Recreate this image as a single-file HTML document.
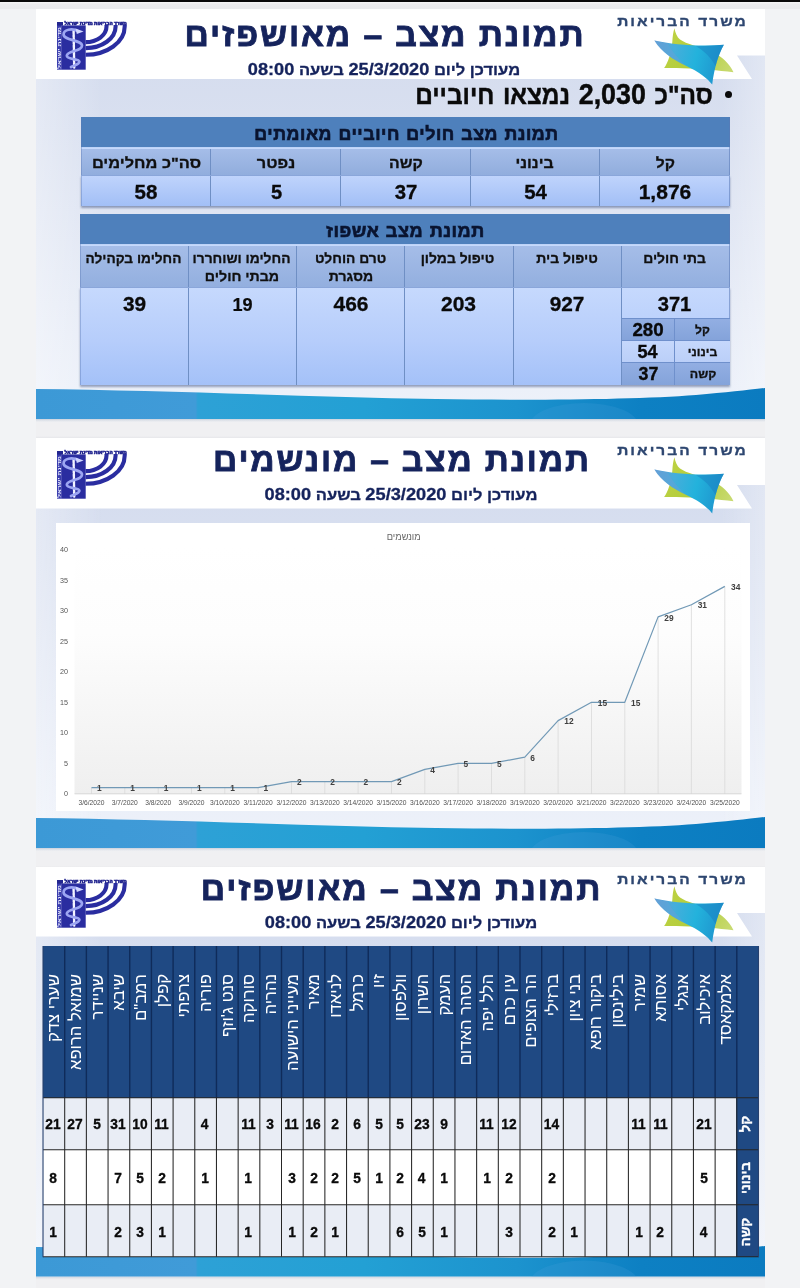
<!DOCTYPE html>
<html lang="he">
<head>
<meta charset="utf-8">
<title>תמונת מצב</title>
<style>
html,body{margin:0;padding:0;background:#f2f3f5;}
body{width:800px;height:1288px;overflow:hidden;position:relative;font-family:"Liberation Sans","DejaVu Sans",sans-serif;}
#root{position:absolute;left:0;top:0;width:800px;height:1288px;overflow:hidden;background:#f2f3f5;}
#root>div,#root>svg{position:absolute;display:block;}
.t{direction:rtl;unicode-bidi:plaintext;margin:0;padding:0;text-align:center;white-space:nowrap;}
.top{left:0;top:0;width:800px;height:1.6px;background:#0a0a0a;}
</style>
</head>
<body>
<div id="root">
<div style="left:0;top:1.5px;width:800px;height:7.3px;background:linear-gradient(180deg,#f7f7f7 0,#ececee 35%,#eaebed 100%)"></div>
<div style="left:36px;top:418px;width:729px;height:20px;background:linear-gradient(180deg,#eef0f3 0,#f0f0f2 30%,#f0f0f2 90%,#e6e7ea 100%)"></div>
<div style="left:36px;top:847px;width:729px;height:20.5px;background:linear-gradient(180deg,#eef0f3 0,#f0f0f2 30%,#f0f0f2 90%,#e6e7ea 100%)"></div>
<div style="left:36px;top:1276px;width:729px;height:12px;background:#f0f0f2"></div>
<div class="top"></div>
<div style="left:36px;top:9px;width:729px;height:409.5px;background:linear-gradient(90deg,rgba(255,255,255,.35) 0,rgba(255,255,255,0) 9%,rgba(255,255,255,0) 94%,rgba(255,255,255,.3) 100%),linear-gradient(180deg,#d2daed 0%,#d9e0f0 30%,#e6ebf6 72%,#eef2fa 100%);"></div>
<svg style="left:36px;top:9px" width="729" height="71" viewBox="0 0 729 71"><polygon points="0,0 729,0 729,46.6 701,46.6 716,70 0,70" fill="#ffffff"/></svg>
<svg style="left:55.4px;top:19px" width="76" height="54" viewBox="-2 -3 76 54" font-family='"Liberation Sans","DejaVu Sans",sans-serif' font-weight="bold">
<g fill="none" stroke="#2a2da0" stroke-width="4.1">
<path d="M67.7 3 L67.7 4.5 A39.1 28.3 0 0 1 28.6 32.8"/>
<path d="M58.6 3 L58.6 4.5 A30 21.6 0 0 1 28.6 26.1"/>
<path d="M49.5 3 L49.5 4.5 A20.9 15.6 0 0 1 28.6 20.1"/>
</g>
<rect x="0" y="0" width="4.6" height="47.7" fill="#3a3eae"/>
<rect x="4.4" y="3.4" width="24.3" height="44.3" fill="#2a2da0"/>
<rect x="0" y="0" width="6" height="3.6" fill="#23268f"/>
<text x="69.6" y="3.2" font-size="4.6" fill="#23268f" stroke="#23268f" stroke-width="0.6" direction="rtl" text-anchor="start" textLength="62" lengthAdjust="spacingAndGlyphs">משרד הבריאות מדינת ישראל</text>
<text transform="translate(3.6 47) rotate(-90)" font-size="4.2" fill="#e8eaff" direction="rtl" text-anchor="end" textLength="42" lengthAdjust="spacingAndGlyphs">מדינת ישראל</text>
<path d="M16.6 9 L17.2 45.5" stroke="#f4f5ff" stroke-width="2.4" fill="none" stroke-linecap="round" stroke-dasharray="2.6 0.9"/>
<path d="M21.6 9.4 C15 5.6 6.4 7.6 6.6 12.6 C6.8 18.6 25 17.6 25 23.8 C25 29.4 9.8 28.6 9.8 33.8 C9.8 38 22.4 36.2 22.4 39.8 C22.4 42.4 17 43.4 14 45" stroke="#9da6f2" stroke-width="2.7" fill="none" stroke-linecap="round"/>
<path d="M18.6 6.6 L26.6 9.6 L19.8 12 Z" fill="#cfd5ff"/>
</svg>
<div class="t" style="left:605.80px;top:14.00px;width:153px;color:#2d4670;height:16px;line-height:16px;font-size:13.7px;font-weight:bold;letter-spacing:1.8px;-webkit-text-stroke:0.3px #2d4670;transform:scaleX(1.1327);">משרד הבריאות</div>
<svg style="left:645px;top:20px" width="100" height="72" viewBox="645 20 100 72">
<defs>
<linearGradient id="g1a" gradientUnits="userSpaceOnUse" x1="654" y1="42" x2="724" y2="60"><stop offset="0" stop-color="#5f9fd6"/><stop offset="0.3" stop-color="#45aedb"/><stop offset="0.62" stop-color="#23b2dc"/><stop offset="1" stop-color="#1e93cd"/></linearGradient>
<linearGradient id="g1b" gradientUnits="userSpaceOnUse" x1="664" y1="30" x2="734" y2="72"><stop offset="0" stop-color="#bfd243"/><stop offset="0.5" stop-color="#b3cd3c"/><stop offset="1" stop-color="#cadb75"/></linearGradient>
</defs>
<path d="M674.4 28.3 C675.5 33.5 677 37 680 39.5 C686 44 700 47 712 52 C722 56.5 729.5 63.5 733.5 72.3 C718 70.5 700 69 690 68.6 C680 68.3 671 68.3 664.1 68.1 C668 63 671.5 52 672.3 42 C672.6 37 673.2 32 674.4 28.3 Z" fill="url(#g1b)"/>
<path d="M654.4 40.4 C672 44.6 700 46.6 723.9 44.8 C718.5 54.5 714.2 68 712.2 84.6 C708 78.5 699 71.8 685.4 65.4 C673.5 59.8 661.5 52 654.4 40.4 Z" fill="url(#g1a)"/>
<path d="M696 46.2 C705.5 46.3 715 45.6 723.9 44.8 C720.3 51 717.6 58 715.6 66 C711 57.5 704 50.5 696 46.2 Z" fill="#1a7fc2" opacity="0.5"/>
<path d="M654.4 40.4 C661.5 52 673.5 59.8 685.4 65.4 C679 59 672 52 668 43.4 C663 42.6 658.5 41.5 654.4 40.4 Z" fill="#6aa0d8" opacity="0.45"/>
</svg>
<div class="t" style="left:175.04px;top:15.70px;width:420px;color:#15235c;height:39px;line-height:39px;font-size:32.4px;font-weight:bold;letter-spacing:1.8px;-webkit-text-stroke:0.8px #15235c;transform:scaleX(1.04);">תמונת מצב – מאושפזים</div>
<div class="t" style="left:238.24px;top:60.60px;width:292px;color:#15235c;height:18px;line-height:18px;font-size:15.4px;font-weight:bold;-webkit-text-stroke:0.3px #15235c;transform:scaleX(1.0743);">מעודכן ליום <span style="font-size:1.1em">25/3/2020</span> בשעה <span style="font-size:1.1em">08:00</span></div>
<div class="t" style="left:387.08px;top:79.45px;width:354px;color:#0a0a0a;height:31px;line-height:31px;font-size:26px;font-weight:bold;word-spacing:2px;-webkit-text-stroke:0.45px #0a0a0a;transform:scaleX(0.9381);">סה"כ <span style="font-size:1.1em">2,030</span> נמצאו חיוביים</div>
<div style="left:724.6px;top:90.9px;width:7.2px;height:7.2px;background:#0a0a0a;border-radius:50%"></div>
<div style="left:81px;top:117px;width:648.5px;height:30px;background:#4e80bc"></div>
<div style="left:81px;top:147px;width:648.5px;height:2.2px;background:linear-gradient(180deg,#b9d0f6,#c9dcfd)"></div>
<div class="t" style="left:236.72px;top:124.20px;width:339px;color:#0a1430;height:21px;line-height:21px;font-size:17.7px;font-weight:bold;letter-spacing:0.5px;word-spacing:1px;-webkit-text-stroke:0.65px #0a1430;transform:scaleX(1.0081);">תמונת מצב חולים חיוביים מאומתים</div>
<div style="left:81px;top:149.2px;width:648.5px;height:25.8px;background:linear-gradient(180deg,#a5bde8,#91addd)"></div>
<div style="left:81px;top:175px;width:648.5px;height:30.8px;background:linear-gradient(180deg,#c0d4fc,#a2bff6);box-shadow:0 1.5px 2px rgba(40,60,110,.45)"></div>
<div style="left:728.6px;top:117px;width:0.9px;height:88.8px;background:rgba(90,120,180,.55)"></div>
<div style="left:81px;top:117px;width:0.8px;height:88.8px;background:rgba(90,120,180,.4)"></div>
<div class="t" style="left:78.53px;top:155.30px;width:135px;color:#101010;height:17px;line-height:17px;font-size:14.4px;font-weight:bold;-webkit-text-stroke:0.3px #101010;transform:scaleX(1.1368);">סה"כ מחלימים</div>
<div class="t" style="left:115.49px;top:178.53px;width:62px;color:#0a0a0a;height:25px;line-height:25px;font-size:20.8px;font-weight:bold;-webkit-text-stroke:0.3px #0a0a0a;transform:scaleX(0.9895);">58</div>
<div class="t" style="left:240.37px;top:155.30px;width:72px;color:#101010;height:17px;line-height:17px;font-size:14.4px;font-weight:bold;-webkit-text-stroke:0.3px #101010;transform:scaleX(1.1394);">נפטר</div>
<div class="t" style="left:251.09px;top:178.53px;width:51px;color:#0a0a0a;height:25px;line-height:25px;font-size:20.8px;font-weight:bold;-webkit-text-stroke:0.3px #0a0a0a;transform:scaleX(0.9677);">5</div>
<div style="left:210.2px;top:148.5px;width:1px;height:57.3px;background:#6f8fc4"></div>
<div class="t" style="left:370.50px;top:155.30px;width:70px;color:#101010;height:17px;line-height:17px;font-size:14.4px;font-weight:bold;-webkit-text-stroke:0.3px #101010;transform:scaleX(1.1);">קשה</div>
<div class="t" style="left:374.82px;top:178.53px;width:62px;color:#0a0a0a;height:25px;line-height:25px;font-size:20.8px;font-weight:bold;-webkit-text-stroke:0.3px #0a0a0a;transform:scaleX(0.9799);">37</div>
<div style="left:339.9px;top:148.5px;width:1px;height:57.3px;background:#6f8fc4"></div>
<div class="t" style="left:498.35px;top:155.30px;width:73px;color:#101010;height:17px;line-height:17px;font-size:14.4px;font-weight:bold;-webkit-text-stroke:0.3px #101010;transform:scaleX(1.1029);">בינוני</div>
<div class="t" style="left:503.71px;top:178.53px;width:63px;color:#0a0a0a;height:25px;line-height:25px;font-size:20.8px;font-weight:bold;-webkit-text-stroke:0.3px #0a0a0a;transform:scaleX(0.9824);">54</div>
<div style="left:469.6px;top:148.5px;width:1px;height:57.3px;background:#6f8fc4"></div>
<div class="t" style="left:636.92px;top:155.30px;width:57px;color:#101010;height:17px;line-height:17px;font-size:14.4px;font-weight:bold;-webkit-text-stroke:0.3px #101010;transform:scaleX(1.0913);">קל</div>
<div class="t" style="left:620.29px;top:178.53px;width:90px;color:#0a0a0a;height:25px;line-height:25px;font-size:20.8px;font-weight:bold;-webkit-text-stroke:0.3px #0a0a0a;transform:scaleX(1.0118);">1,876</div>
<div style="left:599.3px;top:148.5px;width:1px;height:57.3px;background:#6f8fc4"></div>
<div style="left:81px;top:174.6px;width:648.5px;height:0.8px;background:#8aa6da"></div>
<div style="left:80px;top:214px;width:649.5px;height:30px;background:#4e80bc"></div>
<div style="left:80px;top:244px;width:649.5px;height:2px;background:linear-gradient(180deg,#b9d0f6,#c9dcfd)"></div>
<div class="t" style="left:308.68px;top:221.00px;width:193px;color:#0a1430;height:21px;line-height:21px;font-size:17.7px;font-weight:bold;letter-spacing:0.5px;word-spacing:1px;-webkit-text-stroke:0.65px #0a1430;transform:scaleX(1.0236);">תמונת מצב אשפוז</div>
<div style="left:80px;top:246px;width:649.5px;height:41px;background:linear-gradient(180deg,#a5bde8,#93afdf)"></div>
<div style="left:80px;top:287px;width:649.5px;height:97.8px;background:linear-gradient(180deg,#c6d9fd,#b6cdfb 55%,#a4c1f8);box-shadow:0 1.5px 2px rgba(40,60,110,.45)"></div>
<div style="left:728.6px;top:214px;width:0.9px;height:170.8px;background:rgba(90,120,180,.55)"></div>
<div style="left:80px;top:214px;width:0.8px;height:170.8px;background:rgba(90,120,180,.4)"></div>
<div class="t" style="left:66.00px;top:249.80px;width:135px;color:#101010;height:17px;line-height:17px;font-size:13.8px;font-weight:bold;-webkit-text-stroke:0.3px #101010;transform:scaleX(0.9896);">החלימו בקהילה</div>
<div class="t" style="left:103.62px;top:291.03px;width:62px;color:#0a0a0a;height:25px;line-height:25px;font-size:20.8px;font-weight:bold;-webkit-text-stroke:0.3px #0a0a0a;">39</div>
<div class="t" style="left:173.54px;top:249.80px;width:136px;color:#101010;height:17px;line-height:17px;font-size:13.8px;font-weight:bold;-webkit-text-stroke:0.3px #101010;">החלימו ושוחררו</div>
<div class="t" style="left:187.32px;top:268.10px;width:110px;color:#101010;height:17px;line-height:17px;font-size:13.8px;font-weight:bold;-webkit-text-stroke:0.3px #101010;transform:scaleX(1.0292);">מבתי חולים</div>
<div class="t" style="left:213.13px;top:293.50px;width:59px;color:#0a0a0a;height:22px;line-height:22px;font-size:18.5px;font-weight:bold;-webkit-text-stroke:0.2px #0a0a0a;transform:scaleX(0.9768);">19</div>
<div style="left:187.75px;top:245.5px;width:1px;height:139.3px;background:#6f8fc4"></div>
<div class="t" style="left:295.55px;top:249.80px;width:110px;color:#101010;height:17px;line-height:17px;font-size:13.8px;font-weight:bold;-webkit-text-stroke:0.3px #101010;">טרם הוחלט</div>
<div class="t" style="left:309.71px;top:268.10px;width:82px;color:#101010;height:17px;line-height:17px;font-size:13.8px;font-weight:bold;-webkit-text-stroke:0.3px #101010;transform:scaleX(1.014);">מסגרת</div>
<div class="t" style="left:313.85px;top:291.03px;width:74px;color:#0a0a0a;height:25px;line-height:25px;font-size:20.8px;font-weight:bold;-webkit-text-stroke:0.3px #0a0a0a;transform:scaleX(1.0091);">466</div>
<div style="left:296px;top:245.5px;width:1px;height:139.3px;background:#6f8fc4"></div>
<div class="t" style="left:402.30px;top:249.80px;width:111px;color:#101010;height:17px;line-height:17px;font-size:13.8px;font-weight:bold;-webkit-text-stroke:0.3px #101010;transform:scaleX(1.0056);">טיפול במלון</div>
<div class="t" style="left:422.30px;top:291.03px;width:73px;color:#0a0a0a;height:25px;line-height:25px;font-size:20.8px;font-weight:bold;-webkit-text-stroke:0.3px #0a0a0a;transform:scaleX(1.0118);">203</div>
<div style="left:404.25px;top:245.5px;width:1px;height:139.3px;background:#6f8fc4"></div>
<div class="t" style="left:516.66px;top:249.80px;width:100px;color:#101010;height:17px;line-height:17px;font-size:13.8px;font-weight:bold;-webkit-text-stroke:0.3px #101010;transform:scaleX(1.0114);">טיפול בית</div>
<div class="t" style="left:530.00px;top:291.03px;width:74px;color:#0a0a0a;height:25px;line-height:25px;font-size:20.8px;font-weight:bold;-webkit-text-stroke:0.3px #0a0a0a;">927</div>
<div style="left:512.5px;top:245.5px;width:1px;height:139.3px;background:#6f8fc4"></div>
<div class="t" style="left:623.95px;top:249.80px;width:101px;color:#101010;height:17px;line-height:17px;font-size:13.8px;font-weight:bold;-webkit-text-stroke:0.3px #101010;transform:scaleX(1.005);">בתי חולים</div>
<div class="t" style="left:638.40px;top:291.03px;width:73px;color:#0a0a0a;height:25px;line-height:25px;font-size:20.8px;font-weight:bold;-webkit-text-stroke:0.3px #0a0a0a;transform:scaleX(0.9706);">371</div>
<div style="left:620.75px;top:245.5px;width:1px;height:139.3px;background:#6f8fc4"></div>
<div style="left:80px;top:286.6px;width:649.5px;height:0.8px;background:#8aa6da"></div>
<div style="left:621.75px;top:318px;width:107.75px;height:22px;background:linear-gradient(180deg,#93afe3,#84a3da)"></div>
<div class="t" style="left:676.10px;top:323.40px;width:53px;color:#101010;height:14px;line-height:14px;font-size:11.6px;font-weight:bold;-webkit-text-stroke:0.3px #101010;transform:scaleX(1.0429);">קל</div>
<div class="t" style="left:613.83px;top:319.71px;width:68px;color:#0a0a0a;height:21px;line-height:21px;font-size:17.5px;font-weight:bold;-webkit-text-stroke:0.35px #0a0a0a;transform:scaleX(1.069);">280</div>
<div style="left:621.75px;top:317.5px;width:107.75px;height:1px;background:#6f90cc"></div>
<div style="left:621.75px;top:340px;width:107.75px;height:22px;background:linear-gradient(180deg,#c6d8fc,#bbcff8)"></div>
<div class="t" style="left:669.26px;top:345.00px;width:67px;color:#101010;height:14px;line-height:14px;font-size:11.6px;font-weight:bold;-webkit-text-stroke:0.3px #101010;transform:scaleX(1.06);">בינוני</div>
<div class="t" style="left:618.45px;top:341.81px;width:59px;color:#0a0a0a;height:21px;line-height:21px;font-size:17.5px;font-weight:bold;-webkit-text-stroke:0.35px #0a0a0a;transform:scaleX(1.0304);">54</div>
<div style="left:621.75px;top:339.5px;width:107.75px;height:1px;background:#6f90cc"></div>
<div style="left:621.75px;top:362px;width:107.75px;height:22.6px;background:linear-gradient(180deg,#93afe3,#84a3da)"></div>
<div class="t" style="left:670.50px;top:367.40px;width:64px;color:#101010;height:14px;line-height:14px;font-size:11.6px;font-weight:bold;-webkit-text-stroke:0.3px #101010;transform:scaleX(1.0708);">קשה</div>
<div class="t" style="left:619.14px;top:364.01px;width:59px;color:#0a0a0a;height:21px;line-height:21px;font-size:17.5px;font-weight:bold;-webkit-text-stroke:0.35px #0a0a0a;transform:scaleX(1.0187);">37</div>
<div style="left:621.75px;top:361.5px;width:107.75px;height:1px;background:#6f90cc"></div>
<div style="left:674px;top:318px;width:1px;height:66.6px;background:#6f90cc"></div>
<svg style="left:36px;top:385.5px" width="729" height="37" viewBox="0 0 729 37">
<defs><linearGradient id="b1" x1="0" y1="0" x2="1" y2="0"><stop offset="0" stop-color="#3c99d6"/><stop offset="0.219" stop-color="#409bd8"/><stop offset="0.222" stop-color="#2da1d6"/><stop offset="0.45" stop-color="#23a0d4"/><stop offset="0.66" stop-color="#1c93ce"/><stop offset="0.83" stop-color="#0d80c3"/><stop offset="1" stop-color="#0b7bc0"/></linearGradient>
<linearGradient id="bs1" x1="0" y1="0" x2="0" y2="1"><stop offset="0" stop-color="#b9c3d3" stop-opacity="0.7"/><stop offset="1" stop-color="#dfe3ea" stop-opacity="0"/></linearGradient>
<clipPath id="bc1"><path d="M0 3 C130 4.5 270 10.6 400 13.1 C500 14.6 600 13.6 660 9 C690 6.6 712 4 729 2 L729 33 L0 33 Z"/></clipPath></defs>
<rect x="0" y="33" width="729" height="3.5" fill="url(#bs1)"/>
<path d="M0 3 C130 4.5 270 10.6 400 13.1 C500 14.6 600 13.6 660 9 C690 6.6 712 4 729 2 L729 33 L0 33 Z" fill="url(#b1)"/>
<ellipse cx="548" cy="39" rx="54" ry="22" fill="#4a9fdc" opacity="0.22" clip-path="url(#bc1)"/>
</svg>
<div style="left:36px;top:437.5px;width:729px;height:410.5px;background:linear-gradient(90deg,rgba(255,255,255,.35) 0,rgba(255,255,255,0) 9%,rgba(255,255,255,0) 94%,rgba(255,255,255,.3) 100%),linear-gradient(180deg,#d2daed 0%,#d9e0f0 30%,#e6ebf6 72%,#eef2fa 100%);"></div>
<svg style="left:36px;top:437.5px" width="729" height="71.5" viewBox="0 0 729 71.5"><polygon points="0,0 729,0 729,47.1 701,47.1 716,70.5 0,70.5" fill="#ffffff"/></svg>
<svg style="left:55.4px;top:447.5px" width="76" height="54" viewBox="-2 -3 76 54" font-family='"Liberation Sans","DejaVu Sans",sans-serif' font-weight="bold">
<g fill="none" stroke="#2a2da0" stroke-width="4.1">
<path d="M67.7 3 L67.7 4.5 A39.1 28.3 0 0 1 28.6 32.8"/>
<path d="M58.6 3 L58.6 4.5 A30 21.6 0 0 1 28.6 26.1"/>
<path d="M49.5 3 L49.5 4.5 A20.9 15.6 0 0 1 28.6 20.1"/>
</g>
<rect x="0" y="0" width="4.6" height="47.7" fill="#3a3eae"/>
<rect x="4.4" y="3.4" width="24.3" height="44.3" fill="#2a2da0"/>
<rect x="0" y="0" width="6" height="3.6" fill="#23268f"/>
<text x="69.6" y="3.2" font-size="4.6" fill="#23268f" stroke="#23268f" stroke-width="0.6" direction="rtl" text-anchor="start" textLength="62" lengthAdjust="spacingAndGlyphs">משרד הבריאות מדינת ישראל</text>
<text transform="translate(3.6 47) rotate(-90)" font-size="4.2" fill="#e8eaff" direction="rtl" text-anchor="end" textLength="42" lengthAdjust="spacingAndGlyphs">מדינת ישראל</text>
<path d="M16.6 9 L17.2 45.5" stroke="#f4f5ff" stroke-width="2.4" fill="none" stroke-linecap="round" stroke-dasharray="2.6 0.9"/>
<path d="M21.6 9.4 C15 5.6 6.4 7.6 6.6 12.6 C6.8 18.6 25 17.6 25 23.8 C25 29.4 9.8 28.6 9.8 33.8 C9.8 38 22.4 36.2 22.4 39.8 C22.4 42.4 17 43.4 14 45" stroke="#9da6f2" stroke-width="2.7" fill="none" stroke-linecap="round"/>
<path d="M18.6 6.6 L26.6 9.6 L19.8 12 Z" fill="#cfd5ff"/>
</svg>
<div class="t" style="left:605.80px;top:442.50px;width:153px;color:#2d4670;height:16px;line-height:16px;font-size:13.7px;font-weight:bold;letter-spacing:1.8px;-webkit-text-stroke:0.3px #2d4670;transform:scaleX(1.1327);">משרד הבריאות</div>
<svg style="left:645px;top:448.5px" width="100" height="72" viewBox="645 20 100 72">
<defs>
<linearGradient id="g2a" gradientUnits="userSpaceOnUse" x1="654" y1="42" x2="724" y2="60"><stop offset="0" stop-color="#5f9fd6"/><stop offset="0.3" stop-color="#45aedb"/><stop offset="0.62" stop-color="#23b2dc"/><stop offset="1" stop-color="#1e93cd"/></linearGradient>
<linearGradient id="g2b" gradientUnits="userSpaceOnUse" x1="664" y1="30" x2="734" y2="72"><stop offset="0" stop-color="#bfd243"/><stop offset="0.5" stop-color="#b3cd3c"/><stop offset="1" stop-color="#cadb75"/></linearGradient>
</defs>
<path d="M674.4 28.3 C675.5 33.5 677 37 680 39.5 C686 44 700 47 712 52 C722 56.5 729.5 63.5 733.5 72.3 C718 70.5 700 69 690 68.6 C680 68.3 671 68.3 664.1 68.1 C668 63 671.5 52 672.3 42 C672.6 37 673.2 32 674.4 28.3 Z" fill="url(#g2b)"/>
<path d="M654.4 40.4 C672 44.6 700 46.6 723.9 44.8 C718.5 54.5 714.2 68 712.2 84.6 C708 78.5 699 71.8 685.4 65.4 C673.5 59.8 661.5 52 654.4 40.4 Z" fill="url(#g2a)"/>
<path d="M696 46.2 C705.5 46.3 715 45.6 723.9 44.8 C720.3 51 717.6 58 715.6 66 C711 57.5 704 50.5 696 46.2 Z" fill="#1a7fc2" opacity="0.5"/>
<path d="M654.4 40.4 C661.5 52 673.5 59.8 685.4 65.4 C679 59 672 52 668 43.4 C663 42.6 658.5 41.5 654.4 40.4 Z" fill="#6aa0d8" opacity="0.45"/>
</svg>
<div class="t" style="left:202.03px;top:440.70px;width:400px;color:#15235c;height:39px;line-height:39px;font-size:32.4px;font-weight:bold;letter-spacing:1.8px;-webkit-text-stroke:0.8px #15235c;transform:scaleX(1.0333);">תמונת מצב – מונשמים</div>
<div class="t" style="left:254.94px;top:485.60px;width:292px;color:#15235c;height:18px;line-height:18px;font-size:15.4px;font-weight:bold;-webkit-text-stroke:0.3px #15235c;transform:scaleX(1.0767);">מעודכן ליום <span style="font-size:1.1em">25/3/2020</span> בשעה <span style="font-size:1.1em">08:00</span></div>
<svg style="left:55.5px;top:522.5px" width="694.0" height="288.5" viewBox="55.5 522.5 694.0 288.5" font-family='"Liberation Sans","DejaVu Sans",sans-serif'>
<defs><linearGradient id="pg" x1="0" y1="0" x2="0" y2="1"><stop offset="0" stop-color="#ffffff"/><stop offset="0.35" stop-color="#fdfdfd"/><stop offset="1" stop-color="#efefef"/></linearGradient></defs>
<rect x="55.5" y="522.5" width="694.0" height="288.5" fill="#ffffff"/>
<rect x="74" y="546" width="667" height="247.3" fill="url(#pg)"/>
<line x1="91.0" y1="787.2" x2="91.0" y2="793.3" stroke="#d9d9d9" stroke-width="0.8"/>
<line x1="124.3" y1="787.2" x2="124.3" y2="793.3" stroke="#d9d9d9" stroke-width="0.8"/>
<line x1="157.7" y1="787.2" x2="157.7" y2="793.3" stroke="#d9d9d9" stroke-width="0.8"/>
<line x1="191.0" y1="787.2" x2="191.0" y2="793.3" stroke="#d9d9d9" stroke-width="0.8"/>
<line x1="224.3" y1="787.2" x2="224.3" y2="793.3" stroke="#d9d9d9" stroke-width="0.8"/>
<line x1="257.6" y1="787.2" x2="257.6" y2="793.3" stroke="#d9d9d9" stroke-width="0.8"/>
<line x1="291.0" y1="781.1" x2="291.0" y2="793.3" stroke="#d9d9d9" stroke-width="0.8"/>
<line x1="324.3" y1="781.1" x2="324.3" y2="793.3" stroke="#d9d9d9" stroke-width="0.8"/>
<line x1="357.6" y1="781.1" x2="357.6" y2="793.3" stroke="#d9d9d9" stroke-width="0.8"/>
<line x1="391.0" y1="781.1" x2="391.0" y2="793.3" stroke="#d9d9d9" stroke-width="0.8"/>
<line x1="424.3" y1="768.9" x2="424.3" y2="793.3" stroke="#d9d9d9" stroke-width="0.8"/>
<line x1="457.6" y1="762.8" x2="457.6" y2="793.3" stroke="#d9d9d9" stroke-width="0.8"/>
<line x1="491.0" y1="762.8" x2="491.0" y2="793.3" stroke="#d9d9d9" stroke-width="0.8"/>
<line x1="524.3" y1="756.7" x2="524.3" y2="793.3" stroke="#d9d9d9" stroke-width="0.8"/>
<line x1="557.6" y1="720.1" x2="557.6" y2="793.3" stroke="#d9d9d9" stroke-width="0.8"/>
<line x1="591.0" y1="701.8" x2="591.0" y2="793.3" stroke="#d9d9d9" stroke-width="0.8"/>
<line x1="624.3" y1="701.8" x2="624.3" y2="793.3" stroke="#d9d9d9" stroke-width="0.8"/>
<line x1="657.6" y1="616.4" x2="657.6" y2="793.3" stroke="#d9d9d9" stroke-width="0.8"/>
<line x1="690.9" y1="604.2" x2="690.9" y2="793.3" stroke="#d9d9d9" stroke-width="0.8"/>
<line x1="724.3" y1="585.9" x2="724.3" y2="793.3" stroke="#d9d9d9" stroke-width="0.8"/>
<line x1="74" y1="793.3" x2="741" y2="793.3" stroke="#d0d0d0" stroke-width="0.8"/>
<polyline fill="none" stroke="#7199b6" stroke-width="1.2" stroke-linejoin="round" points="91.0,787.2 124.3,787.2 157.7,787.2 191.0,787.2 224.3,787.2 257.6,787.2 291.0,781.1 324.3,781.1 357.6,781.1 391.0,781.1 424.3,768.9 457.6,762.8 491.0,762.8 524.3,756.7 557.6,720.1 591.0,701.8 624.3,701.8 657.6,616.4 690.9,604.2 724.3,585.9"/>
<text x="98.8" y="790.8" font-size="8.4" font-weight="bold" fill="#404040" text-anchor="middle">1</text>
<text x="132.1" y="790.8" font-size="8.4" font-weight="bold" fill="#404040" text-anchor="middle">1</text>
<text x="165.5" y="790.8" font-size="8.4" font-weight="bold" fill="#404040" text-anchor="middle">1</text>
<text x="198.8" y="790.8" font-size="8.4" font-weight="bold" fill="#404040" text-anchor="middle">1</text>
<text x="232.1" y="790.8" font-size="8.4" font-weight="bold" fill="#404040" text-anchor="middle">1</text>
<text x="265.4" y="790.8" font-size="8.4" font-weight="bold" fill="#404040" text-anchor="middle">1</text>
<text x="298.8" y="784.7" font-size="8.4" font-weight="bold" fill="#404040" text-anchor="middle">2</text>
<text x="332.1" y="784.7" font-size="8.4" font-weight="bold" fill="#404040" text-anchor="middle">2</text>
<text x="365.4" y="784.7" font-size="8.4" font-weight="bold" fill="#404040" text-anchor="middle">2</text>
<text x="398.8" y="784.7" font-size="8.4" font-weight="bold" fill="#404040" text-anchor="middle">2</text>
<text x="432.1" y="772.5" font-size="8.4" font-weight="bold" fill="#404040" text-anchor="middle">4</text>
<text x="465.4" y="766.4" font-size="8.4" font-weight="bold" fill="#404040" text-anchor="middle">5</text>
<text x="498.8" y="766.4" font-size="8.4" font-weight="bold" fill="#404040" text-anchor="middle">5</text>
<text x="532.1" y="760.3" font-size="8.4" font-weight="bold" fill="#404040" text-anchor="middle">6</text>
<text x="568.5" y="723.7" font-size="8.4" font-weight="bold" fill="#404040" text-anchor="middle">12</text>
<text x="601.9" y="705.4" font-size="8.4" font-weight="bold" fill="#404040" text-anchor="middle">15</text>
<text x="635.2" y="705.4" font-size="8.4" font-weight="bold" fill="#404040" text-anchor="middle">15</text>
<text x="668.5" y="620.0" font-size="8.4" font-weight="bold" fill="#404040" text-anchor="middle">29</text>
<text x="701.8" y="607.8" font-size="8.4" font-weight="bold" fill="#404040" text-anchor="middle">31</text>
<text x="735.2" y="589.5" font-size="8.4" font-weight="bold" fill="#404040" text-anchor="middle">34</text>
<text x="67.4" y="795.9" font-size="7.2" fill="#555555" text-anchor="end">0</text>
<text x="67.4" y="765.4" font-size="7.2" fill="#555555" text-anchor="end">5</text>
<text x="67.4" y="734.9" font-size="7.2" fill="#555555" text-anchor="end">10</text>
<text x="67.4" y="704.4" font-size="7.2" fill="#555555" text-anchor="end">15</text>
<text x="67.4" y="673.9" font-size="7.2" fill="#555555" text-anchor="end">20</text>
<text x="67.4" y="643.4" font-size="7.2" fill="#555555" text-anchor="end">25</text>
<text x="67.4" y="612.9" font-size="7.2" fill="#555555" text-anchor="end">30</text>
<text x="67.4" y="582.4" font-size="7.2" fill="#555555" text-anchor="end">35</text>
<text x="67.4" y="551.9" font-size="7.2" fill="#555555" text-anchor="end">40</text>
<text x="91.0" y="804.2" font-size="6.7" fill="#505050" text-anchor="middle">3/6/2020</text>
<text x="124.3" y="804.2" font-size="6.7" fill="#505050" text-anchor="middle">3/7/2020</text>
<text x="157.7" y="804.2" font-size="6.7" fill="#505050" text-anchor="middle">3/8/2020</text>
<text x="191.0" y="804.2" font-size="6.7" fill="#505050" text-anchor="middle">3/9/2020</text>
<text x="224.3" y="804.2" font-size="6.7" fill="#505050" text-anchor="middle">3/10/2020</text>
<text x="257.6" y="804.2" font-size="6.7" fill="#505050" text-anchor="middle">3/11/2020</text>
<text x="291.0" y="804.2" font-size="6.7" fill="#505050" text-anchor="middle">3/12/2020</text>
<text x="324.3" y="804.2" font-size="6.7" fill="#505050" text-anchor="middle">3/13/2020</text>
<text x="357.6" y="804.2" font-size="6.7" fill="#505050" text-anchor="middle">3/14/2020</text>
<text x="391.0" y="804.2" font-size="6.7" fill="#505050" text-anchor="middle">3/15/2020</text>
<text x="424.3" y="804.2" font-size="6.7" fill="#505050" text-anchor="middle">3/16/2020</text>
<text x="457.6" y="804.2" font-size="6.7" fill="#505050" text-anchor="middle">3/17/2020</text>
<text x="491.0" y="804.2" font-size="6.7" fill="#505050" text-anchor="middle">3/18/2020</text>
<text x="524.3" y="804.2" font-size="6.7" fill="#505050" text-anchor="middle">3/19/2020</text>
<text x="557.6" y="804.2" font-size="6.7" fill="#505050" text-anchor="middle">3/20/2020</text>
<text x="591.0" y="804.2" font-size="6.7" fill="#505050" text-anchor="middle">3/21/2020</text>
<text x="624.3" y="804.2" font-size="6.7" fill="#505050" text-anchor="middle">3/22/2020</text>
<text x="657.6" y="804.2" font-size="6.7" fill="#505050" text-anchor="middle">3/23/2020</text>
<text x="690.9" y="804.2" font-size="6.7" fill="#505050" text-anchor="middle">3/24/2020</text>
<text x="724.3" y="804.2" font-size="6.7" fill="#505050" text-anchor="middle">3/25/2020</text>
<text x="403.2" y="539.1" font-size="9.3" fill="#666666" text-anchor="middle" direction="rtl">מונשמים</text>
</svg>
<svg style="left:36px;top:814.5px" width="729" height="37" viewBox="0 0 729 37">
<defs><linearGradient id="b2" x1="0" y1="0" x2="1" y2="0"><stop offset="0" stop-color="#3c99d6"/><stop offset="0.219" stop-color="#409bd8"/><stop offset="0.222" stop-color="#2da1d6"/><stop offset="0.45" stop-color="#23a0d4"/><stop offset="0.66" stop-color="#1c93ce"/><stop offset="0.83" stop-color="#0d80c3"/><stop offset="1" stop-color="#0b7bc0"/></linearGradient>
<linearGradient id="bs2" x1="0" y1="0" x2="0" y2="1"><stop offset="0" stop-color="#b9c3d3" stop-opacity="0.7"/><stop offset="1" stop-color="#dfe3ea" stop-opacity="0"/></linearGradient>
<clipPath id="bc2"><path d="M0 3 C130 4.5 270 10.6 400 13.1 C500 14.6 600 13.6 660 9 C690 6.6 712 4 729 2 L729 33 L0 33 Z"/></clipPath></defs>
<rect x="0" y="33" width="729" height="3.5" fill="url(#bs2)"/>
<path d="M0 3 C130 4.5 270 10.6 400 13.1 C500 14.6 600 13.6 660 9 C690 6.6 712 4 729 2 L729 33 L0 33 Z" fill="url(#b2)"/>
<ellipse cx="548" cy="39" rx="54" ry="22" fill="#4a9fdc" opacity="0.22" clip-path="url(#bc2)"/>
</svg>
<div style="left:36px;top:867px;width:729px;height:409.5px;background:linear-gradient(90deg,rgba(255,255,255,.35) 0,rgba(255,255,255,0) 9%,rgba(255,255,255,0) 94%,rgba(255,255,255,.3) 100%),linear-gradient(180deg,#d2daed 0%,#d9e0f0 30%,#e6ebf6 72%,#eef2fa 100%);"></div>
<svg style="left:36px;top:867px" width="729" height="70.5" viewBox="0 0 729 70.5"><polygon points="0,0 729,0 729,46.1 701,46.1 716,69.5 0,69.5" fill="#ffffff"/></svg>
<svg style="left:55.4px;top:877px" width="76" height="54" viewBox="-2 -3 76 54" font-family='"Liberation Sans","DejaVu Sans",sans-serif' font-weight="bold">
<g fill="none" stroke="#2a2da0" stroke-width="4.1">
<path d="M67.7 3 L67.7 4.5 A39.1 28.3 0 0 1 28.6 32.8"/>
<path d="M58.6 3 L58.6 4.5 A30 21.6 0 0 1 28.6 26.1"/>
<path d="M49.5 3 L49.5 4.5 A20.9 15.6 0 0 1 28.6 20.1"/>
</g>
<rect x="0" y="0" width="4.6" height="47.7" fill="#3a3eae"/>
<rect x="4.4" y="3.4" width="24.3" height="44.3" fill="#2a2da0"/>
<rect x="0" y="0" width="6" height="3.6" fill="#23268f"/>
<text x="69.6" y="3.2" font-size="4.6" fill="#23268f" stroke="#23268f" stroke-width="0.6" direction="rtl" text-anchor="start" textLength="62" lengthAdjust="spacingAndGlyphs">משרד הבריאות מדינת ישראל</text>
<text transform="translate(3.6 47) rotate(-90)" font-size="4.2" fill="#e8eaff" direction="rtl" text-anchor="end" textLength="42" lengthAdjust="spacingAndGlyphs">מדינת ישראל</text>
<path d="M16.6 9 L17.2 45.5" stroke="#f4f5ff" stroke-width="2.4" fill="none" stroke-linecap="round" stroke-dasharray="2.6 0.9"/>
<path d="M21.6 9.4 C15 5.6 6.4 7.6 6.6 12.6 C6.8 18.6 25 17.6 25 23.8 C25 29.4 9.8 28.6 9.8 33.8 C9.8 38 22.4 36.2 22.4 39.8 C22.4 42.4 17 43.4 14 45" stroke="#9da6f2" stroke-width="2.7" fill="none" stroke-linecap="round"/>
<path d="M18.6 6.6 L26.6 9.6 L19.8 12 Z" fill="#cfd5ff"/>
</svg>
<div class="t" style="left:605.80px;top:872.00px;width:153px;color:#2d4670;height:16px;line-height:16px;font-size:13.7px;font-weight:bold;letter-spacing:1.8px;-webkit-text-stroke:0.3px #2d4670;transform:scaleX(1.1327);">משרד הבריאות</div>
<svg style="left:645px;top:878px" width="100" height="72" viewBox="645 20 100 72">
<defs>
<linearGradient id="g3a" gradientUnits="userSpaceOnUse" x1="654" y1="42" x2="724" y2="60"><stop offset="0" stop-color="#5f9fd6"/><stop offset="0.3" stop-color="#45aedb"/><stop offset="0.62" stop-color="#23b2dc"/><stop offset="1" stop-color="#1e93cd"/></linearGradient>
<linearGradient id="g3b" gradientUnits="userSpaceOnUse" x1="664" y1="30" x2="734" y2="72"><stop offset="0" stop-color="#bfd243"/><stop offset="0.5" stop-color="#b3cd3c"/><stop offset="1" stop-color="#cadb75"/></linearGradient>
</defs>
<path d="M674.4 28.3 C675.5 33.5 677 37 680 39.5 C686 44 700 47 712 52 C722 56.5 729.5 63.5 733.5 72.3 C718 70.5 700 69 690 68.6 C680 68.3 671 68.3 664.1 68.1 C668 63 671.5 52 672.3 42 C672.6 37 673.2 32 674.4 28.3 Z" fill="url(#g3b)"/>
<path d="M654.4 40.4 C672 44.6 700 46.6 723.9 44.8 C718.5 54.5 714.2 68 712.2 84.6 C708 78.5 699 71.8 685.4 65.4 C673.5 59.8 661.5 52 654.4 40.4 Z" fill="url(#g3a)"/>
<path d="M696 46.2 C705.5 46.3 715 45.6 723.9 44.8 C720.3 51 717.6 58 715.6 66 C711 57.5 704 50.5 696 46.2 Z" fill="#1a7fc2" opacity="0.5"/>
<path d="M654.4 40.4 C661.5 52 673.5 59.8 685.4 65.4 C679 59 672 52 668 43.4 C663 42.6 658.5 41.5 654.4 40.4 Z" fill="#6aa0d8" opacity="0.45"/>
</svg>
<div class="t" style="left:192.34px;top:869.50px;width:419px;color:#15235c;height:39px;line-height:39px;font-size:32.4px;font-weight:bold;letter-spacing:1.8px;-webkit-text-stroke:0.8px #15235c;transform:scaleX(1.0411);">תמונת מצב – מאושפזים</div>
<div class="t" style="left:255.24px;top:914.10px;width:292px;color:#15235c;height:18px;line-height:18px;font-size:15.4px;font-weight:bold;-webkit-text-stroke:0.3px #15235c;transform:scaleX(1.0743);">מעודכן ליום <span style="font-size:1.1em">25/3/2020</span> בשעה <span style="font-size:1.1em">08:00</span></div>
<svg style="left:36px;top:1243.5px" width="729" height="36.5" viewBox="0 0 729 36.5">
<defs><linearGradient id="b3" x1="0" y1="0" x2="1" y2="0"><stop offset="0" stop-color="#3c99d6"/><stop offset="0.219" stop-color="#409bd8"/><stop offset="0.222" stop-color="#2da1d6"/><stop offset="0.45" stop-color="#23a0d4"/><stop offset="0.66" stop-color="#1c93ce"/><stop offset="0.83" stop-color="#0d80c3"/><stop offset="1" stop-color="#0b7bc0"/></linearGradient>
<linearGradient id="bs3" x1="0" y1="0" x2="0" y2="1"><stop offset="0" stop-color="#b9c3d3" stop-opacity="0.7"/><stop offset="1" stop-color="#dfe3ea" stop-opacity="0"/></linearGradient>
<clipPath id="bc3"><path d="M0 3 C130 4.5 270 10.6 400 13.1 C500 14.6 600 13.6 660 9 C690 6.6 712 4 729 2 L729 32.5 L0 32.5 Z"/></clipPath></defs>
<rect x="0" y="32.5" width="729" height="3.5" fill="url(#bs3)"/>
<path d="M0 3 C130 4.5 270 10.6 400 13.1 C500 14.6 600 13.6 660 9 C690 6.6 712 4 729 2 L729 32.5 L0 32.5 Z" fill="url(#b3)"/>
<ellipse cx="548" cy="38.5" rx="54" ry="22" fill="#4a9fdc" opacity="0.22" clip-path="url(#bc3)"/>
</svg>
<div style="left:42.5px;top:946.3px;width:715.5px;height:151.7px;background:#1f4983"></div>
<div style="left:42.5px;top:1098px;width:693.818px;height:52px;background:#e9edf5"></div>
<div style="left:736.318px;top:1098px;width:21.6818px;height:52px;background:#1f4983"></div>
<div style="left:42.5px;top:1150px;width:693.818px;height:55px;background:#ffffff"></div>
<div style="left:736.318px;top:1150px;width:21.6818px;height:55px;background:#1f4983"></div>
<div style="left:42.5px;top:1205px;width:693.818px;height:52px;background:#e9edf5"></div>
<div style="left:736.318px;top:1205px;width:21.6818px;height:52px;background:#1f4983"></div>
<div class="t" style="left:-45.7591px;top:1064.4px;width:200px;height:20px;line-height:20px;font-size:16.7px;font-weight:normal;color:#fff;text-align:right;white-space:nowrap;transform:rotate(-90deg);">שערי צדק</div>
<div class="t" style="left:25.27px;top:1115.14px;width:56px;color:#0a0a0a;height:18px;line-height:18px;font-size:15.3px;font-weight:bold;-webkit-text-stroke:0.35px #0a0a0a;transform:scaleX(0.9);">21</div>
<div class="t" style="left:29.34px;top:1168.94px;width:48px;color:#0a0a0a;height:18px;line-height:18px;font-size:15.3px;font-weight:bold;-webkit-text-stroke:0.35px #0a0a0a;transform:scaleX(0.9);">8</div>
<div class="t" style="left:29.34px;top:1222.64px;width:48px;color:#0a0a0a;height:18px;line-height:18px;font-size:15.3px;font-weight:bold;-webkit-text-stroke:0.35px #0a0a0a;transform:scaleX(0.9);">1</div>
<div class="t" style="left:-24.0773px;top:1064.4px;width:200px;height:20px;line-height:20px;font-size:16.7px;font-weight:normal;color:#fff;text-align:right;white-space:nowrap;transform:rotate(-90deg);">שמואל הרופא</div>
<div class="t" style="left:47.09px;top:1115.14px;width:56px;color:#0a0a0a;height:18px;line-height:18px;font-size:15.3px;font-weight:bold;-webkit-text-stroke:0.35px #0a0a0a;transform:scaleX(0.9);">27</div>
<div class="t" style="left:-2.39545px;top:1064.4px;width:200px;height:20px;line-height:20px;font-size:16.7px;font-weight:normal;color:#fff;text-align:right;white-space:nowrap;transform:rotate(-90deg);">שניידר</div>
<div class="t" style="left:72.70px;top:1115.14px;width:48px;color:#0a0a0a;height:18px;line-height:18px;font-size:15.3px;font-weight:bold;-webkit-text-stroke:0.35px #0a0a0a;transform:scaleX(0.9);">5</div>
<div class="t" style="left:19.2864px;top:1064.4px;width:200px;height:20px;line-height:20px;font-size:16.7px;font-weight:normal;color:#fff;text-align:right;white-space:nowrap;transform:rotate(-90deg);">שיבא</div>
<div class="t" style="left:90.37px;top:1115.14px;width:56px;color:#0a0a0a;height:18px;line-height:18px;font-size:15.3px;font-weight:bold;-webkit-text-stroke:0.35px #0a0a0a;transform:scaleX(0.9);">31</div>
<div class="t" style="left:94.39px;top:1168.94px;width:48px;color:#0a0a0a;height:18px;line-height:18px;font-size:15.3px;font-weight:bold;-webkit-text-stroke:0.35px #0a0a0a;transform:scaleX(0.9);">7</div>
<div class="t" style="left:94.39px;top:1222.64px;width:48px;color:#0a0a0a;height:18px;line-height:18px;font-size:15.3px;font-weight:bold;-webkit-text-stroke:0.35px #0a0a0a;transform:scaleX(0.9);">2</div>
<div class="t" style="left:40.9682px;top:1064.4px;width:200px;height:20px;line-height:20px;font-size:16.7px;font-weight:normal;color:#fff;text-align:right;white-space:nowrap;transform:rotate(-90deg);">רמב"ם</div>
<div class="t" style="left:112.07px;top:1115.14px;width:56px;color:#0a0a0a;height:18px;line-height:18px;font-size:15.3px;font-weight:bold;-webkit-text-stroke:0.35px #0a0a0a;transform:scaleX(0.9);">10</div>
<div class="t" style="left:116.07px;top:1168.94px;width:48px;color:#0a0a0a;height:18px;line-height:18px;font-size:15.3px;font-weight:bold;-webkit-text-stroke:0.35px #0a0a0a;transform:scaleX(0.9);">5</div>
<div class="t" style="left:116.08px;top:1222.64px;width:48px;color:#0a0a0a;height:18px;line-height:18px;font-size:15.3px;font-weight:bold;-webkit-text-stroke:0.35px #0a0a0a;transform:scaleX(0.9);">3</div>
<div class="t" style="left:62.65px;top:1064.4px;width:200px;height:20px;line-height:20px;font-size:16.7px;font-weight:normal;color:#fff;text-align:right;white-space:nowrap;transform:rotate(-90deg);">קפלן</div>
<div class="t" style="left:133.90px;top:1115.14px;width:55px;color:#0a0a0a;height:18px;line-height:18px;font-size:15.3px;font-weight:bold;-webkit-text-stroke:0.35px #0a0a0a;transform:scaleX(0.9);">11</div>
<div class="t" style="left:137.75px;top:1168.94px;width:48px;color:#0a0a0a;height:18px;line-height:18px;font-size:15.3px;font-weight:bold;-webkit-text-stroke:0.35px #0a0a0a;transform:scaleX(0.9);">2</div>
<div class="t" style="left:137.75px;top:1222.64px;width:48px;color:#0a0a0a;height:18px;line-height:18px;font-size:15.3px;font-weight:bold;-webkit-text-stroke:0.35px #0a0a0a;transform:scaleX(0.9);">1</div>
<div class="t" style="left:84.3318px;top:1064.4px;width:200px;height:20px;line-height:20px;font-size:16.7px;font-weight:normal;color:#fff;text-align:right;white-space:nowrap;transform:rotate(-90deg);">צרפתי</div>
<div class="t" style="left:106.014px;top:1064.4px;width:200px;height:20px;line-height:20px;font-size:16.7px;font-weight:normal;color:#fff;text-align:right;white-space:nowrap;transform:rotate(-90deg);">פוריה</div>
<div class="t" style="left:180.26px;top:1115.14px;width:49px;color:#0a0a0a;height:18px;line-height:18px;font-size:15.3px;font-weight:bold;-webkit-text-stroke:0.35px #0a0a0a;transform:scaleX(0.9);">4</div>
<div class="t" style="left:181.11px;top:1168.94px;width:48px;color:#0a0a0a;height:18px;line-height:18px;font-size:15.3px;font-weight:bold;-webkit-text-stroke:0.35px #0a0a0a;transform:scaleX(0.9);">1</div>
<div class="t" style="left:127.695px;top:1064.4px;width:200px;height:20px;line-height:20px;font-size:16.7px;font-weight:normal;color:#fff;text-align:right;white-space:nowrap;transform:rotate(-90deg);">סנט ג'וזף</div>
<div class="t" style="left:149.377px;top:1064.4px;width:200px;height:20px;line-height:20px;font-size:16.7px;font-weight:normal;color:#fff;text-align:right;white-space:nowrap;transform:rotate(-90deg);">סורוקה</div>
<div class="t" style="left:220.63px;top:1115.14px;width:55px;color:#0a0a0a;height:18px;line-height:18px;font-size:15.3px;font-weight:bold;-webkit-text-stroke:0.35px #0a0a0a;transform:scaleX(0.9);">11</div>
<div class="t" style="left:224.48px;top:1168.94px;width:48px;color:#0a0a0a;height:18px;line-height:18px;font-size:15.3px;font-weight:bold;-webkit-text-stroke:0.35px #0a0a0a;transform:scaleX(0.9);">1</div>
<div class="t" style="left:224.48px;top:1222.64px;width:48px;color:#0a0a0a;height:18px;line-height:18px;font-size:15.3px;font-weight:bold;-webkit-text-stroke:0.35px #0a0a0a;transform:scaleX(0.9);">1</div>
<div class="t" style="left:171.059px;top:1064.4px;width:200px;height:20px;line-height:20px;font-size:16.7px;font-weight:normal;color:#fff;text-align:right;white-space:nowrap;transform:rotate(-90deg);">נהריה</div>
<div class="t" style="left:246.17px;top:1115.14px;width:48px;color:#0a0a0a;height:18px;line-height:18px;font-size:15.3px;font-weight:bold;-webkit-text-stroke:0.35px #0a0a0a;transform:scaleX(0.9);">3</div>
<div class="t" style="left:192.741px;top:1064.4px;width:200px;height:20px;line-height:20px;font-size:16.7px;font-weight:normal;color:#fff;text-align:right;white-space:nowrap;transform:rotate(-90deg);">מעייני הישועה</div>
<div class="t" style="left:264.00px;top:1115.14px;width:55px;color:#0a0a0a;height:18px;line-height:18px;font-size:15.3px;font-weight:bold;-webkit-text-stroke:0.35px #0a0a0a;transform:scaleX(0.9);">11</div>
<div class="t" style="left:267.86px;top:1168.94px;width:48px;color:#0a0a0a;height:18px;line-height:18px;font-size:15.3px;font-weight:bold;-webkit-text-stroke:0.35px #0a0a0a;transform:scaleX(0.9);">3</div>
<div class="t" style="left:267.84px;top:1222.64px;width:48px;color:#0a0a0a;height:18px;line-height:18px;font-size:15.3px;font-weight:bold;-webkit-text-stroke:0.35px #0a0a0a;transform:scaleX(0.9);">1</div>
<div class="t" style="left:214.423px;top:1064.4px;width:200px;height:20px;line-height:20px;font-size:16.7px;font-weight:normal;color:#fff;text-align:right;white-space:nowrap;transform:rotate(-90deg);">מאיר</div>
<div class="t" style="left:285.49px;top:1115.14px;width:56px;color:#0a0a0a;height:18px;line-height:18px;font-size:15.3px;font-weight:bold;-webkit-text-stroke:0.35px #0a0a0a;transform:scaleX(0.9);">16</div>
<div class="t" style="left:289.52px;top:1168.94px;width:48px;color:#0a0a0a;height:18px;line-height:18px;font-size:15.3px;font-weight:bold;-webkit-text-stroke:0.35px #0a0a0a;transform:scaleX(0.9);">2</div>
<div class="t" style="left:289.52px;top:1222.64px;width:48px;color:#0a0a0a;height:18px;line-height:18px;font-size:15.3px;font-weight:bold;-webkit-text-stroke:0.35px #0a0a0a;transform:scaleX(0.9);">2</div>
<div class="t" style="left:236.105px;top:1064.4px;width:200px;height:20px;line-height:20px;font-size:16.7px;font-weight:normal;color:#fff;text-align:right;white-space:nowrap;transform:rotate(-90deg);">לניאדו</div>
<div class="t" style="left:311.20px;top:1115.14px;width:48px;color:#0a0a0a;height:18px;line-height:18px;font-size:15.3px;font-weight:bold;-webkit-text-stroke:0.35px #0a0a0a;transform:scaleX(0.9);">2</div>
<div class="t" style="left:311.20px;top:1168.94px;width:48px;color:#0a0a0a;height:18px;line-height:18px;font-size:15.3px;font-weight:bold;-webkit-text-stroke:0.35px #0a0a0a;transform:scaleX(0.9);">2</div>
<div class="t" style="left:311.20px;top:1222.64px;width:48px;color:#0a0a0a;height:18px;line-height:18px;font-size:15.3px;font-weight:bold;-webkit-text-stroke:0.35px #0a0a0a;transform:scaleX(0.9);">1</div>
<div class="t" style="left:257.786px;top:1064.4px;width:200px;height:20px;line-height:20px;font-size:16.7px;font-weight:normal;color:#fff;text-align:right;white-space:nowrap;transform:rotate(-90deg);">כרמל</div>
<div class="t" style="left:332.89px;top:1115.14px;width:48px;color:#0a0a0a;height:18px;line-height:18px;font-size:15.3px;font-weight:bold;-webkit-text-stroke:0.35px #0a0a0a;transform:scaleX(0.9);">6</div>
<div class="t" style="left:332.89px;top:1168.94px;width:48px;color:#0a0a0a;height:18px;line-height:18px;font-size:15.3px;font-weight:bold;-webkit-text-stroke:0.35px #0a0a0a;transform:scaleX(0.9);">5</div>
<div class="t" style="left:279.468px;top:1064.4px;width:200px;height:20px;line-height:20px;font-size:16.7px;font-weight:normal;color:#fff;text-align:right;white-space:nowrap;transform:rotate(-90deg);">זיו</div>
<div class="t" style="left:354.57px;top:1115.14px;width:48px;color:#0a0a0a;height:18px;line-height:18px;font-size:15.3px;font-weight:bold;-webkit-text-stroke:0.35px #0a0a0a;transform:scaleX(0.9);">5</div>
<div class="t" style="left:354.57px;top:1168.94px;width:48px;color:#0a0a0a;height:18px;line-height:18px;font-size:15.3px;font-weight:bold;-webkit-text-stroke:0.35px #0a0a0a;transform:scaleX(0.9);">1</div>
<div class="t" style="left:301.15px;top:1064.4px;width:200px;height:20px;line-height:20px;font-size:16.7px;font-weight:normal;color:#fff;text-align:right;white-space:nowrap;transform:rotate(-90deg);">וולפסון</div>
<div class="t" style="left:376.25px;top:1115.14px;width:48px;color:#0a0a0a;height:18px;line-height:18px;font-size:15.3px;font-weight:bold;-webkit-text-stroke:0.35px #0a0a0a;transform:scaleX(0.9);">5</div>
<div class="t" style="left:376.25px;top:1168.94px;width:48px;color:#0a0a0a;height:18px;line-height:18px;font-size:15.3px;font-weight:bold;-webkit-text-stroke:0.35px #0a0a0a;transform:scaleX(0.9);">2</div>
<div class="t" style="left:376.25px;top:1222.64px;width:48px;color:#0a0a0a;height:18px;line-height:18px;font-size:15.3px;font-weight:bold;-webkit-text-stroke:0.35px #0a0a0a;transform:scaleX(0.9);">6</div>
<div class="t" style="left:322.832px;top:1064.4px;width:200px;height:20px;line-height:20px;font-size:16.7px;font-weight:normal;color:#fff;text-align:right;white-space:nowrap;transform:rotate(-90deg);">השרון</div>
<div class="t" style="left:393.98px;top:1115.14px;width:56px;color:#0a0a0a;height:18px;line-height:18px;font-size:15.3px;font-weight:bold;-webkit-text-stroke:0.35px #0a0a0a;transform:scaleX(0.9);">23</div>
<div class="t" style="left:397.07px;top:1168.94px;width:49px;color:#0a0a0a;height:18px;line-height:18px;font-size:15.3px;font-weight:bold;-webkit-text-stroke:0.35px #0a0a0a;transform:scaleX(0.9);">4</div>
<div class="t" style="left:397.93px;top:1222.64px;width:48px;color:#0a0a0a;height:18px;line-height:18px;font-size:15.3px;font-weight:bold;-webkit-text-stroke:0.35px #0a0a0a;transform:scaleX(0.9);">5</div>
<div class="t" style="left:344.514px;top:1064.4px;width:200px;height:20px;line-height:20px;font-size:16.7px;font-weight:normal;color:#fff;text-align:right;white-space:nowrap;transform:rotate(-90deg);">העמק</div>
<div class="t" style="left:419.61px;top:1115.14px;width:48px;color:#0a0a0a;height:18px;line-height:18px;font-size:15.3px;font-weight:bold;-webkit-text-stroke:0.35px #0a0a0a;transform:scaleX(0.9);">9</div>
<div class="t" style="left:419.61px;top:1168.94px;width:48px;color:#0a0a0a;height:18px;line-height:18px;font-size:15.3px;font-weight:bold;-webkit-text-stroke:0.35px #0a0a0a;transform:scaleX(0.9);">1</div>
<div class="t" style="left:419.61px;top:1222.64px;width:48px;color:#0a0a0a;height:18px;line-height:18px;font-size:15.3px;font-weight:bold;-webkit-text-stroke:0.35px #0a0a0a;transform:scaleX(0.9);">1</div>
<div class="t" style="left:366.195px;top:1064.4px;width:200px;height:20px;line-height:20px;font-size:16.7px;font-weight:normal;color:#fff;text-align:right;white-space:nowrap;transform:rotate(-90deg);">הסהר האדום</div>
<div class="t" style="left:387.877px;top:1064.4px;width:200px;height:20px;line-height:20px;font-size:16.7px;font-weight:normal;color:#fff;text-align:right;white-space:nowrap;transform:rotate(-90deg);">הלל יפה</div>
<div class="t" style="left:459.13px;top:1115.14px;width:55px;color:#0a0a0a;height:18px;line-height:18px;font-size:15.3px;font-weight:bold;-webkit-text-stroke:0.35px #0a0a0a;transform:scaleX(0.9);">11</div>
<div class="t" style="left:462.98px;top:1168.94px;width:48px;color:#0a0a0a;height:18px;line-height:18px;font-size:15.3px;font-weight:bold;-webkit-text-stroke:0.35px #0a0a0a;transform:scaleX(0.9);">1</div>
<div class="t" style="left:409.559px;top:1064.4px;width:200px;height:20px;line-height:20px;font-size:16.7px;font-weight:normal;color:#fff;text-align:right;white-space:nowrap;transform:rotate(-90deg);">עין כרם</div>
<div class="t" style="left:480.63px;top:1115.14px;width:56px;color:#0a0a0a;height:18px;line-height:18px;font-size:15.3px;font-weight:bold;-webkit-text-stroke:0.35px #0a0a0a;transform:scaleX(0.9);">12</div>
<div class="t" style="left:484.66px;top:1168.94px;width:48px;color:#0a0a0a;height:18px;line-height:18px;font-size:15.3px;font-weight:bold;-webkit-text-stroke:0.35px #0a0a0a;transform:scaleX(0.9);">2</div>
<div class="t" style="left:484.67px;top:1222.64px;width:48px;color:#0a0a0a;height:18px;line-height:18px;font-size:15.3px;font-weight:bold;-webkit-text-stroke:0.35px #0a0a0a;transform:scaleX(0.9);">3</div>
<div class="t" style="left:431.241px;top:1064.4px;width:200px;height:20px;line-height:20px;font-size:16.7px;font-weight:normal;color:#fff;text-align:right;white-space:nowrap;transform:rotate(-90deg);">הר הצופים</div>
<div class="t" style="left:452.923px;top:1064.4px;width:200px;height:20px;line-height:20px;font-size:16.7px;font-weight:normal;color:#fff;text-align:right;white-space:nowrap;transform:rotate(-90deg);">ברזילי</div>
<div class="t" style="left:523.07px;top:1115.14px;width:57px;color:#0a0a0a;height:18px;line-height:18px;font-size:15.3px;font-weight:bold;-webkit-text-stroke:0.35px #0a0a0a;transform:scaleX(0.9);">14</div>
<div class="t" style="left:528.02px;top:1168.94px;width:48px;color:#0a0a0a;height:18px;line-height:18px;font-size:15.3px;font-weight:bold;-webkit-text-stroke:0.35px #0a0a0a;transform:scaleX(0.9);">2</div>
<div class="t" style="left:528.02px;top:1222.64px;width:48px;color:#0a0a0a;height:18px;line-height:18px;font-size:15.3px;font-weight:bold;-webkit-text-stroke:0.35px #0a0a0a;transform:scaleX(0.9);">2</div>
<div class="t" style="left:474.605px;top:1064.4px;width:200px;height:20px;line-height:20px;font-size:16.7px;font-weight:normal;color:#fff;text-align:right;white-space:nowrap;transform:rotate(-90deg);">בני ציון</div>
<div class="t" style="left:549.70px;top:1222.64px;width:48px;color:#0a0a0a;height:18px;line-height:18px;font-size:15.3px;font-weight:bold;-webkit-text-stroke:0.35px #0a0a0a;transform:scaleX(0.9);">1</div>
<div class="t" style="left:496.286px;top:1064.4px;width:200px;height:20px;line-height:20px;font-size:16.7px;font-weight:normal;color:#fff;text-align:right;white-space:nowrap;transform:rotate(-90deg);">ביקור רופא</div>
<div class="t" style="left:517.968px;top:1064.4px;width:200px;height:20px;line-height:20px;font-size:16.7px;font-weight:normal;color:#fff;text-align:right;white-space:nowrap;transform:rotate(-90deg);">בילינסון</div>
<div class="t" style="left:539.65px;top:1064.4px;width:200px;height:20px;line-height:20px;font-size:16.7px;font-weight:normal;color:#fff;text-align:right;white-space:nowrap;transform:rotate(-90deg);">שמיר</div>
<div class="t" style="left:610.90px;top:1115.14px;width:55px;color:#0a0a0a;height:18px;line-height:18px;font-size:15.3px;font-weight:bold;-webkit-text-stroke:0.35px #0a0a0a;transform:scaleX(0.9);">11</div>
<div class="t" style="left:614.75px;top:1222.64px;width:48px;color:#0a0a0a;height:18px;line-height:18px;font-size:15.3px;font-weight:bold;-webkit-text-stroke:0.35px #0a0a0a;transform:scaleX(0.9);">1</div>
<div class="t" style="left:561.332px;top:1064.4px;width:200px;height:20px;line-height:20px;font-size:16.7px;font-weight:normal;color:#fff;text-align:right;white-space:nowrap;transform:rotate(-90deg);">אסותא</div>
<div class="t" style="left:632.59px;top:1115.14px;width:55px;color:#0a0a0a;height:18px;line-height:18px;font-size:15.3px;font-weight:bold;-webkit-text-stroke:0.35px #0a0a0a;transform:scaleX(0.9);">11</div>
<div class="t" style="left:636.43px;top:1222.64px;width:48px;color:#0a0a0a;height:18px;line-height:18px;font-size:15.3px;font-weight:bold;-webkit-text-stroke:0.35px #0a0a0a;transform:scaleX(0.9);">2</div>
<div class="t" style="left:583.014px;top:1064.4px;width:200px;height:20px;line-height:20px;font-size:16.7px;font-weight:normal;color:#fff;text-align:right;white-space:nowrap;transform:rotate(-90deg);">אנגלי</div>
<div class="t" style="left:604.695px;top:1064.4px;width:200px;height:20px;line-height:20px;font-size:16.7px;font-weight:normal;color:#fff;text-align:right;white-space:nowrap;transform:rotate(-90deg);">איכילוב</div>
<div class="t" style="left:675.72px;top:1115.14px;width:56px;color:#0a0a0a;height:18px;line-height:18px;font-size:15.3px;font-weight:bold;-webkit-text-stroke:0.35px #0a0a0a;transform:scaleX(0.9);">21</div>
<div class="t" style="left:679.80px;top:1168.94px;width:48px;color:#0a0a0a;height:18px;line-height:18px;font-size:15.3px;font-weight:bold;-webkit-text-stroke:0.35px #0a0a0a;transform:scaleX(0.9);">5</div>
<div class="t" style="left:678.94px;top:1222.64px;width:49px;color:#0a0a0a;height:18px;line-height:18px;font-size:15.3px;font-weight:bold;-webkit-text-stroke:0.35px #0a0a0a;transform:scaleX(0.9);">4</div>
<div class="t" style="left:626.377px;top:1064.4px;width:200px;height:20px;line-height:20px;font-size:16.7px;font-weight:normal;color:#fff;text-align:right;white-space:nowrap;transform:rotate(-90deg);">אלמקאסד</div>
<svg style="left:40.5px;top:944.3px" width="719.5" height="314.7" viewBox="40.5 944.3 719.5 314.7"><line x1="64.18" y1="946.3" x2="64.18" y2="1098" stroke="#0f2b5a" stroke-width="1.4"/><line x1="64.18" y1="1098" x2="64.18" y2="1257" stroke="#262626" stroke-width="1.05"/><line x1="85.86" y1="946.3" x2="85.86" y2="1098" stroke="#0f2b5a" stroke-width="1.4"/><line x1="85.86" y1="1098" x2="85.86" y2="1257" stroke="#262626" stroke-width="1.05"/><line x1="107.55" y1="946.3" x2="107.55" y2="1098" stroke="#0f2b5a" stroke-width="1.4"/><line x1="107.55" y1="1098" x2="107.55" y2="1257" stroke="#262626" stroke-width="1.05"/><line x1="129.23" y1="946.3" x2="129.23" y2="1098" stroke="#0f2b5a" stroke-width="1.4"/><line x1="129.23" y1="1098" x2="129.23" y2="1257" stroke="#262626" stroke-width="1.05"/><line x1="150.91" y1="946.3" x2="150.91" y2="1098" stroke="#0f2b5a" stroke-width="1.4"/><line x1="150.91" y1="1098" x2="150.91" y2="1257" stroke="#262626" stroke-width="1.05"/><line x1="172.59" y1="946.3" x2="172.59" y2="1098" stroke="#0f2b5a" stroke-width="1.4"/><line x1="172.59" y1="1098" x2="172.59" y2="1257" stroke="#262626" stroke-width="1.05"/><line x1="194.27" y1="946.3" x2="194.27" y2="1098" stroke="#0f2b5a" stroke-width="1.4"/><line x1="194.27" y1="1098" x2="194.27" y2="1257" stroke="#262626" stroke-width="1.05"/><line x1="215.95" y1="946.3" x2="215.95" y2="1098" stroke="#0f2b5a" stroke-width="1.4"/><line x1="215.95" y1="1098" x2="215.95" y2="1257" stroke="#262626" stroke-width="1.05"/><line x1="237.64" y1="946.3" x2="237.64" y2="1098" stroke="#0f2b5a" stroke-width="1.4"/><line x1="237.64" y1="1098" x2="237.64" y2="1257" stroke="#262626" stroke-width="1.05"/><line x1="259.32" y1="946.3" x2="259.32" y2="1098" stroke="#0f2b5a" stroke-width="1.4"/><line x1="259.32" y1="1098" x2="259.32" y2="1257" stroke="#262626" stroke-width="1.05"/><line x1="281.00" y1="946.3" x2="281.00" y2="1098" stroke="#0f2b5a" stroke-width="1.4"/><line x1="281.00" y1="1098" x2="281.00" y2="1257" stroke="#262626" stroke-width="1.05"/><line x1="302.68" y1="946.3" x2="302.68" y2="1098" stroke="#0f2b5a" stroke-width="1.4"/><line x1="302.68" y1="1098" x2="302.68" y2="1257" stroke="#262626" stroke-width="1.05"/><line x1="324.36" y1="946.3" x2="324.36" y2="1098" stroke="#0f2b5a" stroke-width="1.4"/><line x1="324.36" y1="1098" x2="324.36" y2="1257" stroke="#262626" stroke-width="1.05"/><line x1="346.05" y1="946.3" x2="346.05" y2="1098" stroke="#0f2b5a" stroke-width="1.4"/><line x1="346.05" y1="1098" x2="346.05" y2="1257" stroke="#262626" stroke-width="1.05"/><line x1="367.73" y1="946.3" x2="367.73" y2="1098" stroke="#0f2b5a" stroke-width="1.4"/><line x1="367.73" y1="1098" x2="367.73" y2="1257" stroke="#262626" stroke-width="1.05"/><line x1="389.41" y1="946.3" x2="389.41" y2="1098" stroke="#0f2b5a" stroke-width="1.4"/><line x1="389.41" y1="1098" x2="389.41" y2="1257" stroke="#262626" stroke-width="1.05"/><line x1="411.09" y1="946.3" x2="411.09" y2="1098" stroke="#0f2b5a" stroke-width="1.4"/><line x1="411.09" y1="1098" x2="411.09" y2="1257" stroke="#262626" stroke-width="1.05"/><line x1="432.77" y1="946.3" x2="432.77" y2="1098" stroke="#0f2b5a" stroke-width="1.4"/><line x1="432.77" y1="1098" x2="432.77" y2="1257" stroke="#262626" stroke-width="1.05"/><line x1="454.45" y1="946.3" x2="454.45" y2="1098" stroke="#0f2b5a" stroke-width="1.4"/><line x1="454.45" y1="1098" x2="454.45" y2="1257" stroke="#262626" stroke-width="1.05"/><line x1="476.14" y1="946.3" x2="476.14" y2="1098" stroke="#0f2b5a" stroke-width="1.4"/><line x1="476.14" y1="1098" x2="476.14" y2="1257" stroke="#262626" stroke-width="1.05"/><line x1="497.82" y1="946.3" x2="497.82" y2="1098" stroke="#0f2b5a" stroke-width="1.4"/><line x1="497.82" y1="1098" x2="497.82" y2="1257" stroke="#262626" stroke-width="1.05"/><line x1="519.50" y1="946.3" x2="519.50" y2="1098" stroke="#0f2b5a" stroke-width="1.4"/><line x1="519.50" y1="1098" x2="519.50" y2="1257" stroke="#262626" stroke-width="1.05"/><line x1="541.18" y1="946.3" x2="541.18" y2="1098" stroke="#0f2b5a" stroke-width="1.4"/><line x1="541.18" y1="1098" x2="541.18" y2="1257" stroke="#262626" stroke-width="1.05"/><line x1="562.86" y1="946.3" x2="562.86" y2="1098" stroke="#0f2b5a" stroke-width="1.4"/><line x1="562.86" y1="1098" x2="562.86" y2="1257" stroke="#262626" stroke-width="1.05"/><line x1="584.55" y1="946.3" x2="584.55" y2="1098" stroke="#0f2b5a" stroke-width="1.4"/><line x1="584.55" y1="1098" x2="584.55" y2="1257" stroke="#262626" stroke-width="1.05"/><line x1="606.23" y1="946.3" x2="606.23" y2="1098" stroke="#0f2b5a" stroke-width="1.4"/><line x1="606.23" y1="1098" x2="606.23" y2="1257" stroke="#262626" stroke-width="1.05"/><line x1="627.91" y1="946.3" x2="627.91" y2="1098" stroke="#0f2b5a" stroke-width="1.4"/><line x1="627.91" y1="1098" x2="627.91" y2="1257" stroke="#262626" stroke-width="1.05"/><line x1="649.59" y1="946.3" x2="649.59" y2="1098" stroke="#0f2b5a" stroke-width="1.4"/><line x1="649.59" y1="1098" x2="649.59" y2="1257" stroke="#262626" stroke-width="1.05"/><line x1="671.27" y1="946.3" x2="671.27" y2="1098" stroke="#0f2b5a" stroke-width="1.4"/><line x1="671.27" y1="1098" x2="671.27" y2="1257" stroke="#262626" stroke-width="1.05"/><line x1="692.95" y1="946.3" x2="692.95" y2="1098" stroke="#0f2b5a" stroke-width="1.4"/><line x1="692.95" y1="1098" x2="692.95" y2="1257" stroke="#262626" stroke-width="1.05"/><line x1="714.64" y1="946.3" x2="714.64" y2="1098" stroke="#0f2b5a" stroke-width="1.4"/><line x1="714.64" y1="1098" x2="714.64" y2="1257" stroke="#262626" stroke-width="1.05"/><line x1="736.32" y1="946.3" x2="736.32" y2="1098" stroke="#0f2b5a" stroke-width="1.4"/><line x1="736.32" y1="1098" x2="736.32" y2="1257" stroke="#262626" stroke-width="1.05"/><line x1="42.5" y1="1098" x2="758" y2="1098" stroke="#262626" stroke-width="1.05"/><line x1="42.5" y1="1150" x2="758" y2="1150" stroke="#262626" stroke-width="1.05"/><line x1="42.5" y1="1205" x2="758" y2="1205" stroke="#262626" stroke-width="1.05"/><line x1="42.5" y1="1257" x2="758" y2="1257" stroke="#262626" stroke-width="1.05"/><line x1="42.5" y1="946.3" x2="42.5" y2="1257.5" stroke="#27406e" stroke-width="1.1"/><line x1="758" y1="946.3" x2="758" y2="1257.5" stroke="#27406e" stroke-width="1.1"/></svg>
<div class="t" style="left:646.159px;top:1114.4px;width:200px;height:20px;line-height:20px;font-size:13.3px;font-weight:bold;color:#fff;text-align:center;white-space:nowrap;transform:rotate(-90deg);-webkit-text-stroke:0.35px #fff;">קל</div>
<div class="t" style="left:646.159px;top:1168.1px;width:200px;height:20px;line-height:20px;font-size:13.3px;font-weight:bold;color:#fff;text-align:center;white-space:nowrap;transform:rotate(-90deg);-webkit-text-stroke:0.35px #fff;">בינוני</div>
<div class="t" style="left:646.159px;top:1222.2px;width:200px;height:20px;line-height:20px;font-size:13.3px;font-weight:bold;color:#fff;text-align:center;white-space:nowrap;transform:rotate(-90deg);-webkit-text-stroke:0.35px #fff;">קשה</div>
</div>
</body>
</html>
